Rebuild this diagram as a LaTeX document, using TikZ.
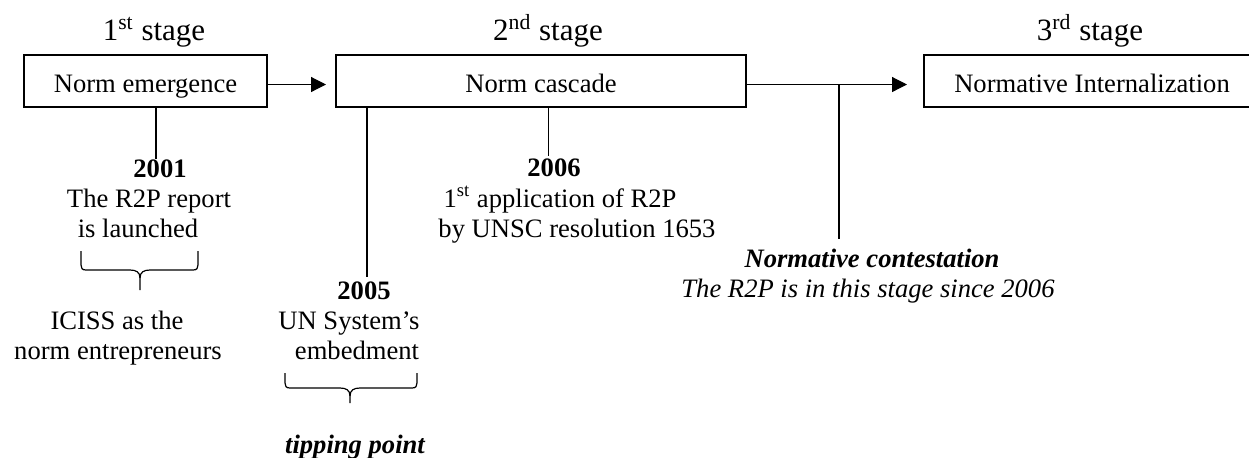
\documentclass[tikz,border=0pt]{standalone}
\usepackage{fontspec}
\setmainfont{Liberation Serif}
\usetikzlibrary{arrows.meta,calc}
\begin{document}
\begin{tikzpicture}[x=0.5pt,y=-0.5pt,
  stagebox/.style={draw, line width=1pt, inner sep=0pt, minimum height=26pt,
    text height=12.25pt, text depth=1.25pt, font=\fontsize{13.3}{15}\selectfont},
  txt/.style={inner sep=0pt, anchor=base, font=\fontsize{13.3}{15}\selectfont},
  yeartxt/.style={txt, font=\fontsize{13.3}{15}\selectfont\bfseries},
  bitxt/.style={txt, font=\fontsize{13.3}{15}\selectfont\bfseries\itshape},
  ittxt/.style={txt, font=\fontsize{13.3}{15}\selectfont\itshape},
  title/.style={inner sep=0pt, anchor=base, font=\fontsize{15.5}{18}\selectfont},
  conn/.style={line width=0.6pt},
  arr/.style={conn, -{Triangle[length=7.5pt,width=7.5pt]}},
]
\useasboundingbox (0,0) rectangle (1249,457);
\clip (0,0) rectangle (1249,457);

% stage titles
\node[title] (s1) at (154,40) {1\textsuperscript{st} stage};
\node[title] (s2) at (548,40) {2\textsuperscript{nd} stage};
\node[title] (s3) at (1090,40) {3\textsuperscript{rd} stage};

% boxes
\node[stagebox, minimum width=121.5pt] (b1) at (145.5,81) {Norm emergence};
\node[stagebox, minimum width=205pt] (b2) at (541,81) {Norm cascade};
\node[stagebox, minimum width=168pt] (b3) at (1092,81) {Normative Internalization};

% arrows
\coordinate (ay) at (0,84.5);
\draw[arr, shorten >=4.5pt] (b1.east |- ay) -- (b2.west |- ay);
\draw[arr, shorten >=8pt] (b2.east |- ay) -- (b3.west |- ay);

% 2001
\node[yeartxt] (y2001) at (160,177) {2001};
\node[txt] (t2001a) at (149,207) {The R2P report};
\node[txt] (t2001b) at (138,237) {is launched};
\node[txt] (ic1) at (117,329) {ICISS as the};
\node[txt] (ic2) at (118,359) {norm entrepreneurs};

% 2005
\node[yeartxt] (y2005) at (364,299) {2005};
\node[txt] (t2005a) at (349,329) {UN System’s};
\node[txt] (t2005b) at (357,359) {embedment};
\node[bitxt] (tp) at (355,453) {tipping point};

% 2006
\node[yeartxt] (y2006) at (554,176) {2006};
\node[txt] (t2006a) at (560,207) {1\textsuperscript{st} application of R2P};
\node[txt] (t2006b) at (577,237) {by UNSC resolution 1653};

% normative contestation
\node[bitxt] (nc) at (872,267) {Normative contestation};
\node[ittxt] (nc2) at (868,297) {The R2P is in this stage since 2006};

% vertical connectors
\coordinate (p1) at (156,0);
\coordinate (p2) at (367,0);
\coordinate (p3) at (548.5,0);
\coordinate (p4) at (839,0);
\draw[conn] (b1.south -| p1) -- (p1 |- y2001.north);
\draw[conn, shorten >=2pt] (b2.south -| p2) -- (p2 |- y2005.north);
\draw[conn, shorten >=1pt] (b2.south -| p3) -- (p3 |- y2006.north);
\draw[conn, shorten >=4.5pt] (p4 |- ay) -- (p4 |- nc.north);

% braces
\draw[conn] (81,251) -- (81,265) .. controls (81,268) and (82,270) .. (86,270)
  -- (130,270) .. controls (136,270) and (140,272) .. (140,278) -- (140,290);
\draw[conn] (198,251) -- (198,265) .. controls (198,268) and (197,270) .. (193,270)
  -- (150,270) .. controls (144,270) and (140,272) .. (140,278);

\draw[conn] (285,373) -- (285,383) .. controls (285,386) and (286,388) .. (290,388)
  -- (340,388) .. controls (346,388) and (350,390) .. (350,396) -- (350,403);
\draw[conn] (417,373) -- (417,383) .. controls (417,386) and (416,388) .. (412,388)
  -- (360,388) .. controls (354,388) and (350,390) .. (350,396);
\end{tikzpicture}
\end{document}
